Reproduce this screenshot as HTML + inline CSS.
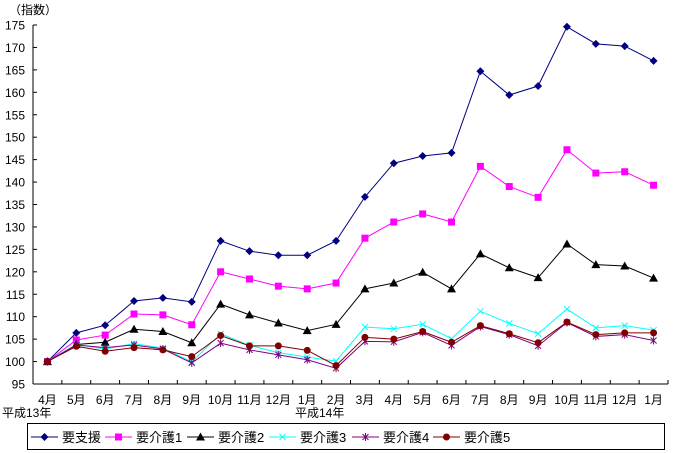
<!DOCTYPE html>
<html><head><meta charset="utf-8"><style>
body{margin:0;background:#fff}
svg{display:block;font-family:"Liberation Sans","Noto Sans CJK JP",sans-serif}
</style></head><body>
<svg id="chart" width="674" height="453" xmlns="http://www.w3.org/2000/svg">
<g id="axes"></g><g id="series"></g><g id="legend"></g>
</svg>
<script>
const categories=["4月","5月","6月","7月","8月","9月","10月","11月","12月","1月","2月","3月","4月","5月","6月","7月","8月","9月","10月","11月","12月","1月"];
const yTicks=[95,100,105,110,115,120,125,130,135,140,145,150,155,160,165,170,175];
const seriesNames=["要支援","要介護1","要介護2","要介護3","要介護4","要介護5"];
const s0=[100,106.4,108.1,113.5,114.2,113.3,126.9,124.6,123.7,123.7,126.9,136.7,144.2,145.8,146.5,164.7,159.4,161.4,174.6,170.8,170.3,167.0];
const s1=[100,104.8,105.9,110.6,110.4,108.2,120.0,118.4,116.8,116.2,117.5,127.5,131.1,132.9,131.1,143.5,139.0,136.6,147.2,142.0,142.3,139.3];
const s2=[100,103.8,104.3,107.2,106.7,104.2,112.8,110.4,108.6,106.9,108.3,116.2,117.5,119.9,116.2,124.0,120.9,118.7,126.2,121.6,121.3,118.6];
const s3=[100,103.8,102.8,104.0,103.0,99.9,106.2,103.6,102.0,101.0,100.1,107.7,107.3,108.3,105.1,111.2,108.5,106.2,111.7,107.5,108.0,107.0];
const s4=[100,103.7,103.1,103.7,102.8,99.7,104.1,102.6,101.5,100.4,98.5,104.5,104.4,106.5,103.6,107.8,106.0,103.5,108.7,105.6,106.0,104.7];
const s5=[100,103.4,102.3,103.1,102.6,101.1,105.8,103.5,103.5,102.5,99.1,105.4,105.0,106.7,104.3,108.0,106.2,104.2,108.8,106.0,106.4,106.4];
const seriesData=[s0,s1,s2,s3,s4,s5];
const colors=["#000080","#ff00ff","#000000","#00ffff","#800080","#800000"];
const markers=["diamond","square","triangle","x","star","circle"];
const NS="http://www.w3.org/2000/svg";
const X0=33,X1=668,Y0=384,Y1=25,YMIN=95,YMAX=175;
const cw=(X1-X0)/categories.length;
function xs(i){return X0+cw*(i+0.5);}
function ys(v){return Y0-(v-YMIN)/(YMAX-YMIN)*(Y0-Y1);}
function mk(tag,attrs,parent){const e=document.createElementNS(NS,tag);for(const k in attrs)e.setAttribute(k,attrs[k]);parent.appendChild(e);return e;}
const axes=document.getElementById('axes');
let yl=mk('line',{x1:X0,y1:Y1,x2:X0,y2:Y0,stroke:'#000'},axes);


let xl=mk('line',{x1:X0,y1:Y0,x2:X1,y2:Y0,stroke:'#000'},axes);


yTicks.forEach(v=>{
  mk('line',{x1:X0,y1:ys(v),x2:X0+4,y2:ys(v),stroke:'#000'},axes);
  const t=mk('text',{x:25,y:ys(v)+4.5,'text-anchor':'end','font-size':12},axes);
  t.textContent=v;
  
  
});
categories.forEach((c,i)=>{
  mk('line',{x1:X0+cw*(i+1),y1:Y0,x2:X0+cw*(i+1),y2:Y0-4,stroke:'#000'},axes);
  const t=mk('text',{x:xs(i),y:404,'text-anchor':'middle','font-size':12},axes);
  t.textContent=c;
  
  
});
let t1=mk('text',{x:2,y:417,'font-size':12},axes);t1.textContent="平成13年";


let t2=mk('text',{x:295,y:417,'font-size':12},axes);t2.textContent="平成14年";


let t3=mk('text',{x:9,y:14,'font-size':12},axes);t3.textContent="（指数）";


function marker(type,x,y,col,p){
  let e;
  if(type==="diamond")e=mk('polygon',{points:`${x},${y-4} ${x+4},${y} ${x},${y+4} ${x-4},${y}`,fill:col},p);
  else if(type==="square")e=mk('rect',{x:x-3.5,y:y-3.5,width:7,height:7,fill:col},p);
  else if(type==="triangle")e=mk('polygon',{points:`${x},${y-4.5} ${x+4.5},${y+3.5} ${x-4.5},${y+3.5}`,fill:col},p);
  else if(type==="x"){e=mk('path',{d:`M${x-3},${y-3}L${x+3},${y+3}M${x+3},${y-3}L${x-3},${y+3}`,stroke:col,'stroke-width':1},p);}
  else if(type==="star"){e=mk('path',{d:`M${x-3},${y-3}L${x+3},${y+3}M${x+3},${y-3}L${x-3},${y+3}M${x},${y-4}L${x},${y+4}`,stroke:col,'stroke-width':1},p);}
  else e=mk('circle',{cx:x,cy:y,r:3.5,fill:col},p);
  return e;
}
const sg=document.getElementById('series');
seriesData.forEach((d,si)=>{
  const g=mk('g',{},sg);
  
  
  const pl=mk('polyline',{points:d.map((v,i)=>xs(i)+','+ys(v)).join(' '),fill:'none',stroke:colors[si],'stroke-width':1},g);
  
  
  d.forEach((v,i)=>{
    const m=marker(markers[si],xs(i),ys(v),colors[si],g);
    
    
  });
});
const lg=document.getElementById('legend');
const box=mk('rect',{x:27.5,y:423.5,width:637,height:26,fill:'#fff',stroke:'#000'},lg);


const lx=[31,105,187,269,352,433];
seriesNames.forEach((n,i)=>{
  const g=mk('g',{},lg);
  
  
  mk('line',{x1:lx[i],y1:437,x2:lx[i]+27,y2:437,stroke:colors[i]},g);
  marker(markers[i],lx[i]+13.5,437,colors[i],g);
  const t=mk('text',{x:lx[i]+31,y:442,'font-size':13},g);
  t.textContent=n;
});
</script>
</body></html>
